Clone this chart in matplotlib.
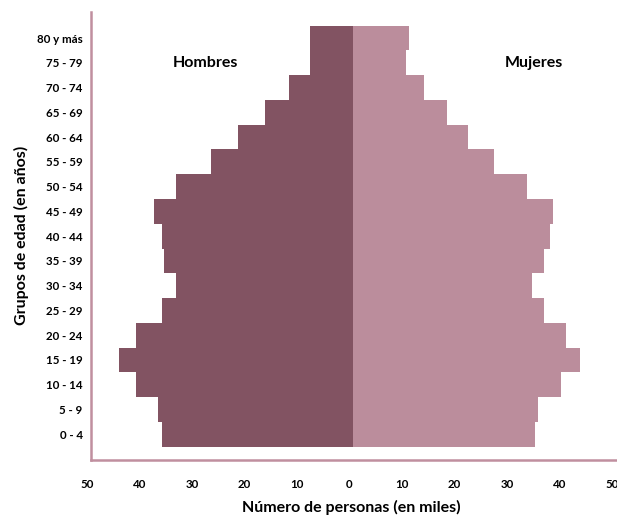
import matplotlib
matplotlib.use("Agg")
import matplotlib.pyplot as plt
import matplotlib.transforms as mtransforms
import numpy as np

plt.rcParams['font.family'] = ['Lato', 'DejaVu Sans']

age_groups = ["0 - 4", "5 - 9", "10 - 14", "15 - 19", "20 - 24", "25 - 29", "30 - 34",
              "35 - 39", "40 - 44", "45 - 49", "50 - 54", "55 - 59", "60 - 64",
              "65 - 69", "70 - 74", "75 - 79", "80 y más"]
hombres = [36.4, 37.3, 41.4, 44.7, 41.4, 36.4, 33.8, 36.0, 36.4, 38.0, 33.8, 27.2, 21.9,
           16.9, 12.2, 8.2, 8.2]
mujeres = [34.6, 35.2, 39.5, 43.1, 40.6, 36.4, 34.0, 36.4, 37.4, 38.0, 33.0, 26.8, 21.8,
           17.9, 13.5, 10.1, 10.6]
x_ticks = [-50, -40, -30, -20, -10, 0, 10, 20, 30, 40, 50]
x_tick_labels = ["50", "40", "30", "20", "10", "0", "10", "20", "30", "40", "50"]

dark = "#825362"
light = "#bb8d9c"
spine_c = "#c08f9f"

fig = plt.figure(figsize=(6.17, 5.23), dpi=100)
ax = fig.add_axes([0.1475, 0.1205, 0.8505, 0.8565])

y = np.arange(len(age_groups))
ax.barh(y, [-v for v in hombres], height=1.0, color=dark, edgecolor="none")
ax.barh(y, mujeres, height=1.0, color=light, edgecolor="none")

ax.set_xlim(-50, 50)
ax.set_ylim(-1.04, 17.05)
ax.set_yticks(y)
ax.set_yticklabels(age_groups, fontsize=8.3, fontweight="bold")
ax.set_xticks(x_ticks)
ax.set_xticklabels(x_tick_labels, fontsize=8.3, fontweight="bold")
ax.tick_params(axis="y", length=0, pad=6)
ax.tick_params(axis="x", length=0, pad=14)

offset = mtransforms.ScaledTranslation(-4 / 100, 0, fig.dpi_scale_trans)
for lbl in ax.get_xticklabels():
    lbl.set_transform(lbl.get_transform() + offset)

for s in ["top", "right"]:
    ax.spines[s].set_visible(False)
for s in ["left", "bottom"]:
    ax.spines[s].set_color(spine_c)
    ax.spines[s].set_linewidth(1.8)

ax.text(-28.2, 15.0, "Hombres", fontsize=11.5, fontweight="bold", ha="center", va="center")
ax.text(34.4, 15.0, "Mujeres", fontsize=11.5, fontweight="bold", ha="center", va="center")

fig.text(0.570, 0.015, "Número de personas (en miles)", fontsize=11.5, fontweight="bold",
         ha="center", va="bottom")
fig.text(0.035, 0.55, "Grupos de edad (en años)", fontsize=11.5, fontweight="bold",
         ha="center", va="center", rotation=90)

fig.savefig("out.png", dpi=100)
